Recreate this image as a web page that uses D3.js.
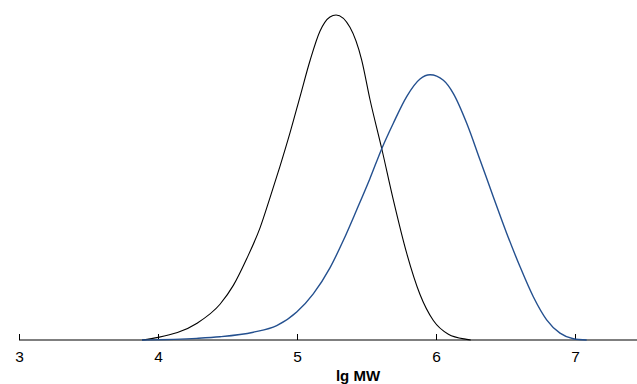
<!DOCTYPE html>
<html>
<head>
<meta charset="utf-8">
<script src="https://cdn.jsdelivr.net/npm/d3@7"></script>
<style>
  html, body { margin: 0; padding: 0; background: #fff; }
  svg { display: block; }
  text { font-family: "Liberation Sans", Arial, sans-serif; }
</style>
</head>
<body>
<svg id="chart" width="637" height="384"></svg>
<script>
// Data (lg MW vs normalized signal)
const blackLg  = [3.885, 4.002, 4.278, 4.446, 4.542, 4.638, 4.734, 4.806, 4.878, 4.950, 5.022, 5.094, 5.165, 5.237, 5.281, 5.381, 5.465, 5.525, 5.609, 5.693, 5.789, 5.885, 5.981, 6.089, 6.221, 6.25];
const blackVal = [0.000, 0.008, 0.051, 0.110, 0.168, 0.250, 0.345, 0.438, 0.535, 0.638, 0.749, 0.860, 0.950, 0.994, 1.000, 0.962, 0.862, 0.740, 0.590, 0.431, 0.267, 0.140, 0.060, 0.018, 0.002, 0.000];
const blueLg   = [3.885, 4.278, 4.446, 4.686, 4.854, 4.998, 5.117, 5.237, 5.333, 5.429, 5.525, 5.609, 5.693, 5.789, 5.885, 5.957, 6.053, 6.124, 6.221, 6.317, 6.412, 6.509, 6.604, 6.700, 6.796, 6.892, 6.988, 7.084];
const blueVal  = [0.000, 0.005, 0.010, 0.024, 0.044, 0.086, 0.142, 0.222, 0.306, 0.400, 0.497, 0.588, 0.667, 0.749, 0.803, 0.816, 0.799, 0.759, 0.667, 0.554, 0.441, 0.328, 0.226, 0.133, 0.062, 0.021, 0.004, 0.000];
const tickValues = [3, 4, 5, 6, 7];
const xLabel = "lg MW";

const svg = d3.select("#chart");
const x = d3.scaleLinear().domain([3, 7]).range([19, 575]);
const y = d3.scaleLinear().domain([0, 1]).range([340, 15]);

// axis line to right edge
svg.append("line")
  .attr("x1", 19).attr("x2", 637)
  .attr("y1", 340).attr("y2", 340)
  .attr("stroke", "#000").attr("stroke-width", 1.2);

const axis = d3.axisBottom(x).tickValues(tickValues).tickSize(-6).tickPadding(11).tickFormat(d3.format("d"));
const g = svg.append("g").attr("transform", "translate(0,340)").call(axis);
g.select(".domain").remove();
g.selectAll(".tick line").attr("stroke", "#000").attr("stroke-width", 1);
g.selectAll(".tick text").attr("font-size", 15.5).attr("fill", "#000")
  .attr("font-family", "'Liberation Sans', Arial, sans-serif");

svg.append("text")
  .attr("x", 358).attr("y", 381)
  .attr("text-anchor", "middle")
  .attr("font-size", 15).attr("font-weight", "bold")
  .text(xLabel);

const line = d3.line()
  .x(d => x(d[0])).y(d => y(d[1]))
  .curve(d3.curveMonotoneX);

svg.append("path")
  .datum(blackLg.map((v, i) => [v, blackVal[i]]))
  .attr("d", line).attr("fill", "none")
  .attr("stroke", "#000").attr("stroke-width", 1.1);

svg.append("path")
  .datum(blueLg.map((v, i) => [v, blueVal[i]]))
  .attr("d", line).attr("fill", "none")
  .attr("stroke", "#24508f").attr("stroke-width", 1.4);
</script>
</body>
</html>
